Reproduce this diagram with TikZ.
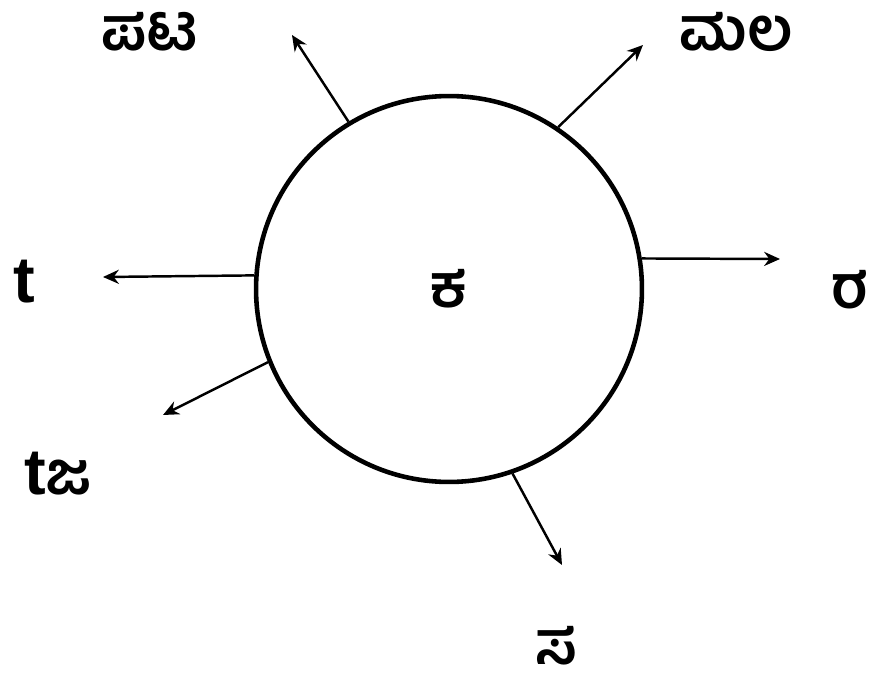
\documentclass[tikz,border=0pt]{standalone}
\usepackage{fontspec}
\setmainfont{Liberation Sans}
\newfontfamily\kn[Script=Kannada]{Hind Mysuru}
\usetikzlibrary{arrows.meta}

\begin{document}
\begin{tikzpicture}[x=0.02cm,y=-0.02cm,line width=1.4pt,>={Stealth[length=9pt,width=8pt]}]
\tikzset{
  ray/.style={->,line width=1.4pt},
  lab/.style={font=\fontsize{34}{36}\selectfont\bfseries,inner sep=0pt},
  body/.style={draw,circle,line width=2.6pt,minimum size=7.72cm,inner sep=0pt}}
\useasboundingbox (0,0) rectangle (877,683);
% ---------- centre ----------
\node[body,font=\fontsize{34}{36}\selectfont\bfseries\kn] (c) at (449,289) {ಕ};
% ---------- arrow tips ----------
\coordinate (tpl) at (292,35);
\coordinate (tpr) at (643,45);
\coordinate (rt)  at (780,259);
\coordinate (lf)  at (103,277);
\coordinate (bl)  at (163,415);
\coordinate (bt)  at (562,565);
% ---------- rays ----------
\draw[ray] (c.121.3) -- (tpl);
\draw[ray] (c.56.6)  -- (tpr);
\draw[ray] (c.9.7)   -- (rt);
\draw[ray] (c.176.4) -- (lf);
\draw[ray] (c.202.5) -- (bl);
\draw[ray] (c.289.1) -- (bt);
% ---------- labels ----------
\node[lab] (ptx) at (150,32)  {\kn ಪಟ};
\node[lab] (mlx) at (736,32)  {\kn ಮಲ};
\node[lab] (rx)  at (850,290) {\kn ರ};
\node[lab,font=\fontsize{37}{40}\selectfont\bfseries] (tx)  at (24,282)  {t};
\node[lab] (tjx) at (58,474)  {{\fontsize{37}{40}\selectfont t}\kn ಜ};
\node[lab] (sx)  at (556,646) {\kn ಸ};
\end{tikzpicture}
\end{document}
